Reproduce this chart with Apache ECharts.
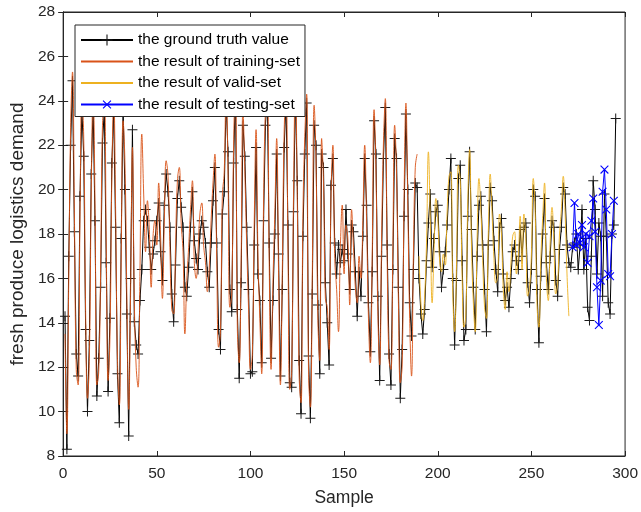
<!DOCTYPE html>
<html>
<head>
<meta charset="utf-8">
<script src="https://cdn.jsdelivr.net/npm/echarts/dist/echarts.min.js"></script>
<style>
  html, body { margin: 0; padding: 0; background: #fff; }
  #chart { width: 641px; height: 512px; }
</style>
</head>
<body>
<div id="chart"></div>
<script>
// ground truth, samples 1..295
let truth = [
  14.3, 8.3, 17.0, 22.0, 24.9, 18.1, 12.6, 11.6, 19.7, 23.6,
  21.5, 13.7, 10.0, 13.2, 20.7, 23.8, 18.6, 10.7, 12.4, 15.6,
  22.1, 23.6, 16.7, 10.9, 14.2, 21.2, 23.5, 18.3, 11.7, 9.5,
  17.8, 23.7, 20.0, 14.4, 8.9, 16.0, 22.7, 14.05, 13.0, 12.6,
  15.0, 16.4, 18.6, 19.1, 18.6, 17.4, 16.4, 17.1, 17.7, 18.6,
  19.4, 17.2, 15.9, 19.3, 20.7, 19.9, 18.3, 15.3, 14.05, 16.6,
  19.6, 20.4, 19.2, 18.3, 15.6, 15.2, 16.5, 18.3, 19.9, 17.7,
  16.9, 16.4, 18.0, 18.6, 18.3, 17.6, 16.3, 15.6, 17.6, 19.5,
  21.0, 17.6, 13.7, 12.8, 18.9, 19.9, 24.0, 21.7, 15.5, 14.5,
  21.2, 24.5, 14.6, 11.5, 15.8, 22.9, 21.5, 18.3, 15.5, 11.7,
  11.8, 17.5, 21.9, 16.2, 15.0, 12.2, 18.6, 22.9, 24.2, 17.6,
  12.4, 15.0, 18.0, 21.6, 17.1, 11.6, 15.5, 21.9, 24.0, 18.4,
  11.3, 11.1, 19.0, 24.3, 20.4, 12.3, 9.9, 17.9, 21.6, 23.9,
  12.5, 9.7, 15.3, 22.9, 22.0, 14.8, 11.7, 21.6, 21.0, 15.8,
  14.0, 12.1, 20.2, 21.4, 17.6, 16.2, 17.5, 16.7, 17.3, 16.8,
  19.1, 17.1, 15.5, 18.4, 18.1, 16.3, 14.3, 16.3, 15.2, 17.9,
  21.4, 19.3, 14.9, 12.7, 16.3, 23.1, 21.6, 15.2, 11.4, 17.0,
  21.4, 23.7, 17.5, 12.6, 11.2, 16.4, 22.3, 21.4, 15.6, 10.6,
  12.8, 18.8, 23.4, 20.0, 14.9, 13.4, 16.4, 20.3, 20.1, 16.0,
  14.4, 13.5, 14.6, 16.8, 18.5, 19.8, 16.5, 17.8, 19.0, 19.3,
  17.2, 15.6, 16.4, 17.2, 18.4, 20.0, 21.4, 16.0, 13.0, 15.9,
  20.5, 21.1, 16.8, 13.2, 13.7, 18.8, 21.7, 18.2, 15.6, 13.7,
  17.0, 19.3, 19.7, 17.5, 15.5, 13.6, 17.5, 20.1, 19.5, 17.7,
  16.4, 15.4, 18.3, 18.7, 16.2, 15.0, 15.6, 14.7, 16.0, 17.2,
  17.5, 16.8, 16.4, 18.2, 17.0, 18.3, 18.5, 15.8, 14.9, 16.4,
  20.0, 19.7, 15.5, 13.1, 16.1, 18.0, 19.6, 16.7, 15.5, 17.0,
  18.6, 18.3, 15.9, 15.2, 17.3, 18.3, 20.1, 19.8, 17.5, 16.7,
  16.5, 17.4, 17.6, 18.0, 16.4, 17.5, 19.1, 16.4, 17.8, 14.7,
  14.1, 17.0, 20.4, 19.1, 16.2, 18.5, 17.9, 15.2, 19.8, 17.9,
  14.9, 14.4, 18.0, 18.4, 23.2
];

// training-set result, samples 1..189
let trainPred = [
  13.5, 9.0, 16.0, 22.8, 25.3, 19.0, 11.9, 11.2, 18.8, 24.2,
  22.3, 14.5, 10.6, 12.4, 19.9, 24.4, 19.5, 11.2, 11.8, 16.3,
  22.9, 24.1, 17.6, 11.4, 13.4, 20.5, 24.1, 19.2, 12.4, 10.3,
  17.0, 23.1, 21.2, 15.3, 10.1, 15.2, 21.9, 15.0, 12.0, 11.1,
  16.3, 22.5, 19.8, 17.2, 19.5, 18.2, 15.6, 17.9, 18.6, 17.5,
  20.3, 18.0, 15.1, 18.5, 21.3, 20.6, 17.4, 14.6, 14.4, 17.4,
  20.4, 21.0, 18.5, 17.2, 13.5, 15.9, 17.4, 19.1, 20.4, 16.8,
  16.0, 17.2, 18.9, 19.4, 17.5, 16.7, 15.4, 16.5, 18.6, 20.3,
  21.6, 16.8, 12.9, 13.6, 19.7, 20.8, 24.6, 20.9, 14.7, 15.3,
  22.0, 24.9, 13.8, 12.2, 16.7, 23.6, 20.8, 17.5, 14.6, 11.9,
  12.6, 18.4, 22.7, 17.1, 14.2, 11.7, 19.4, 23.6, 24.6, 16.8,
  11.9, 15.8, 18.9, 22.3, 16.3, 11.2, 16.3, 22.6, 24.5, 17.6,
  11.0, 11.8, 19.8, 24.8, 19.6, 11.6, 10.4, 18.7, 22.4, 24.3,
  11.8, 10.2, 16.1, 23.8, 21.3, 14.1, 12.3, 22.3, 20.3, 15.1,
  14.7, 12.8, 19.6, 22.0, 16.9, 15.5, 13.6, 17.4, 19.3, 16.2,
  18.4, 17.8, 14.8, 19.1, 17.4, 15.6, 14.9, 17.0, 16.0, 18.6,
  22.0, 18.6, 14.2, 12.2, 17.0, 23.6, 20.9, 14.5, 12.1, 17.7,
  22.1, 24.1, 16.8, 12.3, 11.9, 17.2, 22.9, 20.7, 14.9, 11.3,
  12.1, 19.5, 23.9, 19.3, 14.2, 11.6, 17.1, 21.0, 21.6
];

// valid-set result, samples 190..270
let validPred = [
  17.0, 14.9, 14.1, 15.2, 17.6, 21.7, 18.6, 14.9, 17.2, 19.6, 18.7,
  16.8, 16.3, 17.1, 16.6, 19.0, 20.6, 20.8, 15.4, 13.6, 16.6,
  21.1, 20.4, 16.1, 13.8, 14.4, 19.4, 21.8, 17.5, 14.9, 13.6,
  17.8, 20.5, 19.1, 16.8, 14.7, 14.2, 18.1, 20.7, 18.9, 16.9,
  15.8, 16.1, 18.9, 18.0, 15.5, 14.6, 16.3, 15.4, 16.6, 17.9,
  18.1, 16.2, 17.0, 18.8, 16.4, 18.9, 17.8, 15.2, 15.6, 17.1,
  20.5, 19.0, 14.8, 13.8, 16.8, 18.7, 20.3, 16.0, 15.0, 17.6,
  19.2, 17.6, 15.3, 15.8, 18.0, 19.1, 20.6, 18.9, 16.2, 14.3
];

// testing-set result, samples 272..294
let testPred = [
  17.4, 19.4, 17.5, 18.0, 17.6, 18.4, 17.4, 18.0, 16.7, 17.9,
  18.6, 19.6, 18.1, 15.6, 13.9, 15.9, 19.9, 20.9, 19.1, 16.2,
  16.1, 18.0, 19.5
];

let truthStart = 1;
let trainStart = 1;
let validStart = 190;
let testStart = 272;

let xTicks = [0, 50, 100, 150, 200, 250, 300];
let yTicks = [8, 10, 12, 14, 16, 18, 20, 22, 24, 26, 28];

let legendNames = [
  'the ground truth value',
  'the result of training-set',
  'the result of valid-set',
  'the result of testing-set'
];

function toPairs(arr, start) {
  return arr.map(function (v, i) { return [start + i, v]; });
}

// thin plus sign, also used rotated as an x
let plusPath = 'path://M4.5,0 H5.5 V4.5 H10 V5.5 H5.5 V10 H4.5 V5.5 H0 V4.5 H4.5 Z';
let font = 'Liberation Sans, Arial, sans-serif';
let axisColor = '#262626';

let chart = echarts.init(document.getElementById('chart'), null, { renderer: 'canvas' });

let option = {
  animation: false,
  backgroundColor: '#fff',
  textStyle: { fontFamily: font },
  grid: {
    left: 61, right: 15, top: 12, bottom: 56,
    show: true, borderColor: axisColor, borderWidth: 1
  },
  legend: {
    orient: 'vertical',
    left: 75, top: 25,
    padding: [7, 5, 4, 5],
    itemGap: 5.5,
    itemWidth: 52, itemHeight: 14,
    backgroundColor: '#fff',
    borderColor: axisColor, borderWidth: 1,
    textStyle: { fontFamily: font, fontSize: 15.5, color: '#000' },
    data: [
      { name: legendNames[0] },
      { name: legendNames[1], itemStyle: { opacity: 0 } },
      { name: legendNames[2], itemStyle: { opacity: 0 } },
      { name: legendNames[3] }
    ]
  },
  xAxis: [
    {
      type: 'value', min: xTicks[0], max: xTicks[xTicks.length - 1], interval: 50,
      name: 'Sample', nameLocation: 'middle', nameGap: 33,
      nameTextStyle: { fontFamily: font, fontSize: 17.5, color: axisColor },
      axisLine: { lineStyle: { color: axisColor } },
      axisTick: { inside: true, length: 5, lineStyle: { color: axisColor } },
      axisLabel: { fontFamily: font, fontSize: 15.5, color: axisColor, margin: 10 },
      splitLine: { show: false }
    },
    {
      type: 'value', position: 'top', min: 0, max: 300, interval: 50,
      axisLine: { lineStyle: { color: axisColor } },
      axisTick: { inside: true, length: 5, lineStyle: { color: axisColor } },
      axisLabel: { show: false },
      splitLine: { show: false }
    }
  ],
  yAxis: [
    {
      type: 'value', min: yTicks[0], max: yTicks[yTicks.length - 1], interval: 2,
      name: 'fresh produce logistics demand', nameLocation: 'middle', nameGap: 26,
      nameTextStyle: { fontFamily: font, fontSize: 19, color: axisColor },
      axisLine: { show: true, lineStyle: { color: axisColor } },
      axisTick: { show: true, inside: true, length: 5, lineStyle: { color: axisColor } },
      axisLabel: { fontFamily: font, fontSize: 15.5, color: axisColor, margin: 8 },
      splitLine: { show: false }
    },
    {
      type: 'value', position: 'right', min: 8, max: 28, interval: 2,
      axisLine: { show: true, lineStyle: { color: axisColor } },
      axisTick: { show: true, inside: true, length: 5, lineStyle: { color: axisColor } },
      axisLabel: { show: false },
      splitLine: { show: false }
    }
  ],
  series: [
    {
      name: legendNames[0],
      type: 'line',
      data: toPairs(truth, truthStart),
      symbol: plusPath,
      symbolSize: 10,
      showAllSymbol: true,
      itemStyle: { color: '#1a1a1a' },
      lineStyle: { color: '#000', width: 1 },
      z: 2
    },
    {
      name: legendNames[1],
      type: 'line',
      data: toPairs(trainPred, trainStart),
      symbol: 'none',
      smooth: 0.45,
      itemStyle: { color: '#D95319' },
      lineStyle: { color: '#D95319', width: 0.9 },
      z: 3
    },
    {
      name: legendNames[2],
      type: 'line',
      data: toPairs(validPred, validStart),
      symbol: 'none',
      smooth: 0.45,
      itemStyle: { color: '#EDB120' },
      lineStyle: { color: '#EDB120', width: 0.9 },
      z: 3
    },
    {
      name: legendNames[3],
      type: 'line',
      data: toPairs(testPred, testStart),
      symbol: plusPath,
      symbolRotate: 45,
      symbolSize: 11,
      showAllSymbol: true,
      itemStyle: { color: '#0000ff' },
      lineStyle: { color: '#0000ff', width: 1 },
      z: 4
    }
  ]
};

chart.setOption(option);
</script>
</body>
</html>
